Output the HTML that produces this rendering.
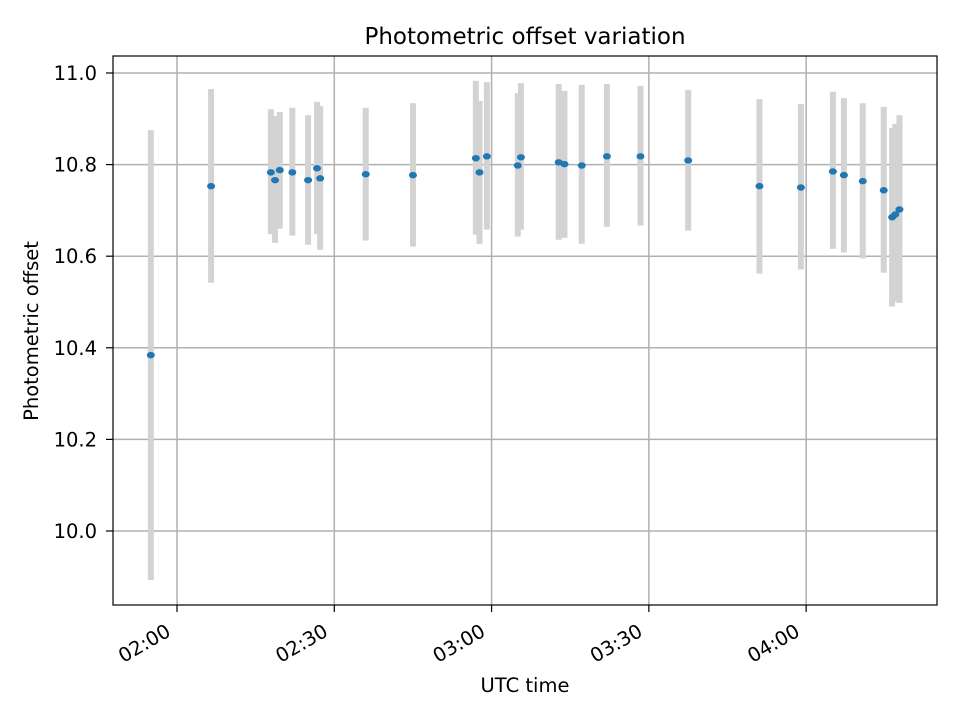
<!DOCTYPE html>
<html><head><meta charset="utf-8"><style>
body{margin:0;background:#fff}
svg text{font-family:"DejaVu Sans","Liberation Sans",sans-serif;fill:#000}
</style></head><body>
<svg id="chart" width="960" height="720" xmlns="http://www.w3.org/2000/svg">
<rect width="960" height="720" fill="#fff"/>
<g id="grid"></g>
<g id="bars"></g>
<g id="dots"></g>
<rect x="113" y="56" width="824" height="549" fill="none" stroke="#000" stroke-width="1.2"/>
<g id="ticks"></g>
<text x="525" y="44" font-size="23" text-anchor="middle">Photometric offset variation</text>
<text x="525" y="692" font-size="19.5" text-anchor="middle">UTC time</text>
<text transform="translate(38,331) rotate(-90)" font-size="19.5" text-anchor="middle">Photometric offset</text>
</svg>
<script>
// minutes since 00:00 UTC
const times=[115.0,126.5,137.9,138.7,139.6,142.0,145.0,146.7,147.3,156.0,165.0,177.0,177.7,179.1,185.0,185.6,192.8,193.9,197.2,202.0,208.4,217.5,231.1,239.0,245.1,247.2,250.8,254.8,256.4,257.0,257.8];
const values=[10.384,10.753,10.783,10.766,10.788,10.783,10.766,10.792,10.770,10.779,10.777,10.814,10.783,10.818,10.798,10.816,10.805,10.801,10.798,10.818,10.818,10.809,10.753,10.750,10.785,10.777,10.764,10.744,10.685,10.691,10.702];
const upper=[10.875,10.965,10.921,10.906,10.915,10.924,10.908,10.937,10.928,10.924,10.934,10.983,10.939,10.980,10.956,10.978,10.976,10.961,10.974,10.976,10.972,10.963,10.943,10.932,10.959,10.945,10.934,10.926,10.880,10.889,10.908];
const lower=[9.893,10.542,10.648,10.629,10.660,10.645,10.625,10.648,10.614,10.634,10.621,10.647,10.627,10.658,10.643,10.658,10.636,10.640,10.627,10.664,10.667,10.656,10.562,10.571,10.616,10.608,10.595,10.564,10.490,10.501,10.498];
const xTicks=[120,150,180,210,240];
const xTickLabels=["02:00","02:30","03:00","03:30","04:00"];
const yTicks=[10.0,10.2,10.4,10.6,10.8,11.0];
const yTickLabels=["10.0","10.2","10.4","10.6","10.8","11.0"];

const L=113,R=937,T=56,B=605;
const xMin=107.79,xMax=264.96,yMin=9.8384,yMax=11.0371;
const X=v=>L+(v-xMin)/(xMax-xMin)*(R-L);
const Y=v=>B-(v-yMin)/(yMax-yMin)*(B-T);
const NS="http://www.w3.org/2000/svg";
function mk(tag,attrs,parent){const e=document.createElementNS(NS,tag);for(const k in attrs)e.setAttribute(k,attrs[k]);document.getElementById(parent).appendChild(e);return e;}

xTicks.forEach((t,i)=>{
  const x=X(t);
  const g=mk('line',{x1:x,x2:x,y1:T,y2:B,stroke:'#b0b0b0','stroke-width':1.5},'grid');
  
  
  const tk=mk('line',{x1:x,x2:x,y1:B,y2:B+7,stroke:'#000','stroke-width':1.2},'ticks');
  
  
  const lb=mk('text',{transform:`translate(${x-5},${B+30}) rotate(-30)`,'font-size':19.5,'text-anchor':'end'},'ticks');
  lb.textContent=xTickLabels[i];
  
  
});
yTicks.forEach((t,i)=>{
  const y=Y(t);
  const g=mk('line',{x1:L,x2:R,y1:y,y2:y,stroke:'#b0b0b0','stroke-width':1.5},'grid');
  
  
  const tk=mk('line',{x1:L-7,x2:L,y1:y,y2:y,stroke:'#000','stroke-width':1.2},'ticks');
  
  
  const lb=mk('text',{x:L-16,y:y+7,'font-size':19.5,'text-anchor':'end'},'ticks');
  lb.textContent=yTickLabels[i];
  
  
});
times.forEach((t,i)=>{
  const x=X(t);
  const b=mk('rect',{x:x-3,y:Y(upper[i]),width:6,height:Y(lower[i])-Y(upper[i]),fill:'#d3d3d3'},'bars');
  
  
});
times.forEach((t,i)=>{
  const d=mk('ellipse',{cx:X(t),cy:Y(values[i]),rx:4,ry:3.2,fill:'#1f77b4'},'dots');
  
  
});
</script>
</body></html>
